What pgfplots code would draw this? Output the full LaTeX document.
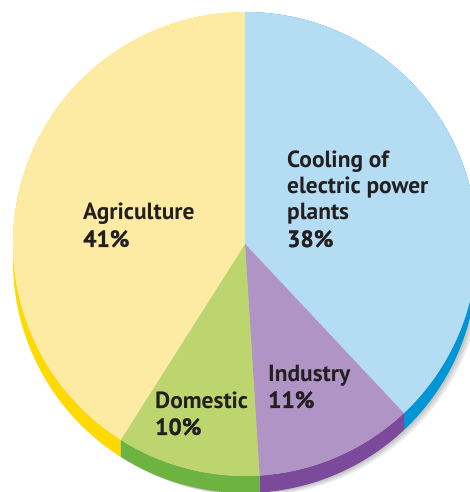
\documentclass[border=0pt]{standalone}
\usepackage{pgfplots}
\pgfplotsset{compat=1.18}
\usepackage{pgfplotstable}
\usepackage{fontspec}
\setmainfont{PT Sans}
\newfontface\lbl{PT Sans Bold}
\newfontface\pct{PT Sans Bold}[FakeBold=1.2]

% face / rim colours, one pair per slice
\definecolor{face0}{HTML}{B4DDF4}\definecolor{rim0}{HTML}{0096D6}
\definecolor{face1}{HTML}{B194C6}\definecolor{rim1}{HTML}{7C4A9A}
\definecolor{face2}{HTML}{BDD56E}\definecolor{rim2}{HTML}{6CB43F}
\definecolor{face3}{HTML}{FDEBA4}\definecolor{rim3}{HTML}{FEDA00}
\definecolor{txt}{HTML}{231F20}

% share of water use, clockwise from the top
\pgfplotstableread{
label value
Cooling 38
Industry 11
Domestic 10
Agriculture 41
}\piedata

\newcommand\cx{245}
\newcommand\cy{248}
\newcommand\R{232}

\begin{document}
\begin{tikzpicture}
% start / end angle of every slice
\def\cum{0}
\pgfplotsforeachungrouped \i in {0,...,3}{%
  \pgfplotstablegetelem{\i}{value}\of\piedata
  \pgfmathsetmacro\angA{90-3.6*\cum}%
  \pgfmathsetmacro\cum{\cum+\pgfplotsretval}%
  \pgfmathsetmacro\angB{90-3.6*\cum}%
  \expandafter\xdef\csname sA\i\endcsname{\angA}%
  \expandafter\xdef\csname sB\i\endcsname{\angB}%
}
\begin{axis}[
    at={(0,0)}, anchor=south west,
    x=1pt, y=1pt,
    xmin=0, xmax=470, ymin=0, ymax=492,
    hide axis, clip=true,
]
% soft shadow on the right
\pgfplotsinvokeforeach{1,2,3}{
  \fill[black, opacity=0.08] (axis cs:{\cx+2*#1},{\cy-17-#1}) circle[radius=\R pt];
}
% rim (thickness below the face)
\pgfplotsinvokeforeach{0,...,3}{
  \fill[rim#1]
    (axis cs:{\cx+\R*cos(\csname sA#1\endcsname)},{\cy+\R*sin(\csname sA#1\endcsname)})
    arc[start angle=\csname sA#1\endcsname, end angle=\csname sB#1\endcsname, radius=\R pt]
    -- ++(0,-17pt)
    arc[start angle=\csname sB#1\endcsname, end angle=\csname sA#1\endcsname, radius=\R pt]
    -- cycle;
}
% faces
\pgfplotsinvokeforeach{0,...,3}{
  \fill[face#1] (axis cs:\cx,\cy)
    -- (axis cs:{\cx+\R*cos(\csname sA#1\endcsname)},{\cy+\R*sin(\csname sA#1\endcsname)})
    arc[start angle=\csname sA#1\endcsname, end angle=\csname sB#1\endcsname, radius=\R pt]
    -- cycle;
}
\tikzset{lab/.style={anchor=base west, inner sep=0pt, text=txt, font=\fontsize{23.4}{26}\selectfont}}
\node[lab] at (axis cs:287,324) {\lbl Cooling of};
\node[lab] at (axis cs:287,298) {\lbl electric power};
\node[lab] at (axis cs:287,272) {\lbl plants};
\node[lab] at (axis cs:287,245) {\pct 38\%};
\node[lab] at (axis cs:83,272) {\lbl Agriculture};
\node[lab] at (axis cs:83,245) {\pct 41\%};
\node[lab] at (axis cs:268,110) {\lbl Industry};
\node[lab] at (axis cs:268,84) {\pct 11\%};
\node[lab] at (axis cs:155,83) {\lbl Domestic};
\node[lab] at (axis cs:155,57) {\pct 10\%};
\end{axis}
\pgfresetboundingbox
\path (0,0) rectangle (470pt,492pt);
\end{tikzpicture}
\end{document}
